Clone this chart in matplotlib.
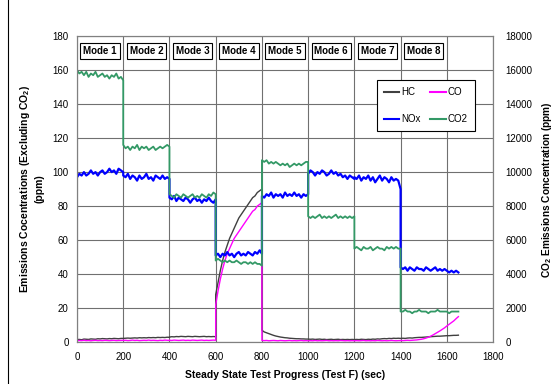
import numpy as np
import matplotlib
matplotlib.use("Agg")
import matplotlib.pyplot as plt
from matplotlib.lines import Line2D

plt.rcParams['font.family'] = ['Liberation Sans', 'DejaVu Sans']
plt.rcParams['mathtext.default'] = 'regular'

# mode boundaries (sec)
mode_names = ["Mode 1", "Mode 2", "Mode 3", "Mode 4", "Mode 5", "Mode 6", "Mode 7", "Mode 8"]
mode_start = [0, 200, 400, 600, 800, 1000, 1200, 1400]
mode_end = [200, 400, 600, 800, 1000, 1200, 1400, 1650]

# readings every 10 s inside each mode (ppm)
nox = [
    [97, 99, 98, 100, 98, 99, 101, 99, 100, 98, 100, 101, 99, 100, 102, 100, 101, 99, 102, 101, 100],
    [98, 97, 99, 96, 98, 97, 95, 98, 96, 97, 99, 96, 97, 95, 98, 97, 96, 98, 96, 97, 96],
    [85, 84, 86, 83, 85, 84, 83, 85, 84, 82, 84, 85, 83, 84, 82, 84, 83, 85, 83, 82, 84],
    [51, 52, 50, 52, 51, 53, 51, 52, 50, 52, 53, 51, 52, 51, 53, 52, 51, 53, 52, 54, 52],
    [86, 85, 87, 86, 88, 85, 87, 86, 87, 85, 88, 86, 87, 86, 88, 86, 87, 85, 87, 86, 87],
    [99, 101, 100, 98, 100, 99, 101, 100, 98, 99, 101, 99, 100, 98, 99, 97, 98, 96, 98, 97, 96],
    [97, 96, 98, 95, 97, 96, 98, 95, 97, 94, 96, 98, 95, 97, 96, 94, 97, 95, 96, 95, 90],
    [44, 43, 44, 42, 44, 43, 42, 44, 43, 43, 42, 44, 43, 42, 43, 44, 42, 43, 42, 43, 42, 41, 42, 41, 42, 41],
]
co2 = [
    [16000, 15800, 15900, 15700, 15900, 15600, 15800, 15700, 15900, 15600, 15700, 15800, 15600, 15700, 15500, 15700, 15600, 15800, 15500, 15600, 15400],
    [11600, 11400, 11500, 11300, 11500, 11400, 11600, 11300, 11500, 11400, 11500, 11300, 11400, 11500, 11300, 11400, 11500, 11400, 11500, 11600, 11500],
    [8700, 8600, 8500, 8700, 8600, 8500, 8700, 8600, 8500, 8600, 8700, 8500, 8600, 8500, 8700, 8600, 8500, 8700, 8600, 8800, 8700],
    [4800, 4900, 4800, 4700, 4800, 4700, 4800, 4700, 4700, 4800, 4700, 4600, 4700, 4700, 4600, 4700, 4600, 4700, 4600, 4600, 4500],
    [10700, 10600, 10700, 10500, 10600, 10500, 10600, 10500, 10400, 10500, 10400, 10500, 10300, 10400, 10500, 10400, 10500, 10400, 10500, 10600, 10600],
    [7400, 7300, 7400, 7300, 7400, 7500, 7300, 7400, 7300, 7400, 7300, 7400, 7500, 7300, 7400, 7300, 7400, 7300, 7400, 7300, 7400],
    [5500, 5600, 5500, 5400, 5600, 5500, 5500, 5600, 5400, 5500, 5600, 5500, 5500, 5400, 5600, 5500, 5600, 5500, 5600, 5500, 5500],
    [1800, 1800, 1900, 1800, 1800, 1700, 1800, 1800, 1900, 1800, 1800, 1800, 1700, 1800, 1800, 1800, 1900, 1800, 1800, 1800, 1800, 1700, 1800, 1800, 1800, 1800],
]
hc = [
    [1.5, 1.6, 1.4, 1.8, 1.7, 1.6, 1.9, 1.8, 1.7, 2.0, 1.9, 2.1, 2.0, 1.9, 2.1, 2.0, 2.2, 2.1, 2.0, 2.2, 2.2],
    [2.2, 2.3, 2.4, 2.3, 2.4, 2.5, 2.4, 2.6, 2.5, 2.6, 2.5, 2.7, 2.6, 2.7, 2.6, 2.8, 2.7, 2.8, 2.7, 2.9, 2.8],
    [3.0, 3.2, 3.1, 3.3, 3.2, 3.4, 3.3, 3.2, 3.4, 3.3, 3.2, 3.4, 3.3, 3.2, 3.3, 3.4, 3.2, 3.3, 3.2, 3.3, 3.2],
    [28, 35, 42, 48, 53, 57, 61, 64, 67, 70, 73, 75, 77, 79, 81, 83, 85, 86, 88, 89, 90],
    [7, 6, 5.5, 5, 4.5, 4, 3.6, 3.3, 3.0, 2.8, 2.6, 2.5, 2.3, 2.2, 2.1, 2.0, 2.0, 1.9, 1.9, 1.8, 1.8],
    [1.8, 1.7, 1.8, 1.6, 1.7, 1.8, 1.6, 1.7, 1.5, 1.6, 1.7, 1.5, 1.6, 1.7, 1.5, 1.6, 1.5, 1.6, 1.5, 1.6, 1.5],
    [1.5, 1.6, 1.5, 1.7, 1.6, 1.5, 1.7, 1.6, 1.8, 1.7, 1.9, 1.8, 2.0, 2.1, 2.0, 2.2, 2.1, 2.3, 2.2, 2.3, 2.2],
    [2.2, 2.3, 2.2, 2.4, 2.5, 2.4, 2.6, 2.7, 2.8, 2.8, 2.9, 3.0, 3.1, 3.2, 3.3, 3.4, 3.5, 3.5, 3.6, 3.7, 3.8, 3.8, 3.9, 4.0, 4.0, 4.1],
]
co = [
    [0.8, 1.0, 0.9, 1.1, 0.9, 1.0, 0.8, 1.0, 1.1, 0.9, 1.0, 0.9, 1.1, 1.0, 0.9, 1.0, 1.1, 0.9, 1.0, 1.0, 1.1],
    [1.0, 1.1, 0.9, 1.0, 1.2, 1.0, 1.1, 0.9, 1.0, 1.1, 1.0, 1.2, 1.0, 1.1, 1.0, 0.9, 1.1, 1.0, 1.2, 1.1, 1.0],
    [1.1, 1.0, 1.2, 1.1, 1.0, 1.1, 1.2, 1.0, 1.1, 1.0, 1.2, 1.1, 1.0, 1.1, 1.2, 1.0, 1.1, 1.0, 1.1, 1.2, 1.1],
    [22, 30, 37, 43, 48, 52, 55, 58, 61, 63, 65, 67, 69, 71, 73, 75, 77, 78, 80, 81, 82],
    [1.0, 0.9, 1.0, 0.8, 0.9, 1.0, 0.9, 0.8, 1.0, 0.9, 0.8, 0.9, 1.0, 0.8, 0.9, 0.8, 0.9, 1.0, 0.8, 0.9, 0.8],
    [0.8, 0.9, 0.8, 1.0, 0.8, 0.9, 0.8, 0.9, 1.0, 0.8, 0.9, 0.8, 0.9, 0.8, 1.0, 0.9, 0.8, 0.9, 0.8, 0.9, 0.8],
    [0.8, 0.9, 0.8, 0.9, 1.0, 0.8, 0.9, 0.8, 0.9, 0.8, 1.0, 0.9, 0.8, 0.9, 0.8, 0.9, 1.0, 0.9, 0.8, 0.9, 0.9],
    [1.0, 0.9, 1.0, 1.1, 1.0, 1.1, 1.2, 1.3, 1.5, 1.7, 2.0, 2.4, 2.9, 3.5, 4.2, 5.0, 5.8, 6.6, 7.5, 8.4, 9.5, 10.5, 11.5, 12.5, 13.8, 15.0],
]


def series(blocks):
    t, v = [], []
    for s, e, vals in zip(mode_start, mode_end, blocks):
        t.extend(np.linspace(s, e, len(vals)))
        v.extend(vals)
    return np.array(t), np.array(v)


fig = plt.figure(figsize=(5.54, 3.84), dpi=100)
ax1 = fig.add_axes([0.139, 0.109, 0.751, 0.797])

c_hc = '#404040'
c_co = '#ff00ff'
c_nox = '#0000ff'
c_co2 = '#339966'

t, v = series(hc)
ax1.plot(t, v, color=c_hc, lw=1.0)
t, v = series(co)
ax1.plot(t, v, color=c_co, lw=1.0)
t, v = series(nox)
ax1.plot(t, v, color=c_nox, lw=1.6)

ax1.set_xlim(0, 1800)
ax1.set_ylim(0, 180)
ax1.set_xticks(range(0, 1801, 200))
ax1.set_yticks(range(0, 181, 20))
ax1.grid(True, color='#707070', lw=0.8)
ax1.tick_params(axis='y', labelsize=7, length=0, pad=6)
ax1.tick_params(axis='x', labelsize=7, length=0, pad=7)
for sp in ax1.spines.values():
    sp.set_color('#808080')

ax2 = ax1.twinx()
t, v = series(co2)
ax2.plot(t, v, color=c_co2, lw=1.3)
ax2.set_ylim(0, 18000)
ax2.set_yticks(range(0, 18001, 2000))
ax2.tick_params(labelsize=7, length=0, pad=9)
for sp in ax2.spines.values():
    sp.set_color('#808080')

for name, s in zip(mode_names, mode_start):
    ax1.text(s + 100, 171, name, ha='center', va='center', fontsize=7, fontweight='bold',
             bbox=dict(boxstyle='square,pad=0.3', fc='white', ec='black', lw=0.8))

ax1.set_xlabel('Steady State Test Progress (Test F) (sec)', fontsize=7.5, fontweight='bold', labelpad=6)
ax1.set_ylabel('Emissions Cocentrations (Excluding CO$_2$)\n(ppm)', fontsize=7.5, fontweight='bold', labelpad=6)
ax2.set_ylabel('CO$_2$ Emissions Concentration (ppm)', fontsize=7.3, fontweight='bold', labelpad=5)

handles = [Line2D([], [], color=c_hc, lw=1.5), Line2D([], [], color=c_nox, lw=1.5),
           Line2D([], [], color=c_co, lw=1.5), Line2D([], [], color=c_co2, lw=1.5)]
labels = ['HC', 'NOx', 'CO', 'CO2']
leg = ax2.legend(handles, labels, ncol=2, loc='upper left', bbox_to_anchor=(0.721, 0.856),
                 fontsize=7, frameon=True, fancybox=False, edgecolor='black', framealpha=1,
                 handlelength=1.6, handletextpad=0.2, columnspacing=1.0, labelspacing=1.8,
                 borderpad=0.7, borderaxespad=0)
leg.get_frame().set_linewidth(0.8)

# outer chart border
fig.add_artist(Line2D([8 / 554, 8 / 554], [0, 1], color='black', lw=0.8, transform=fig.transFigure))

fig.savefig('out.png', dpi=100)
